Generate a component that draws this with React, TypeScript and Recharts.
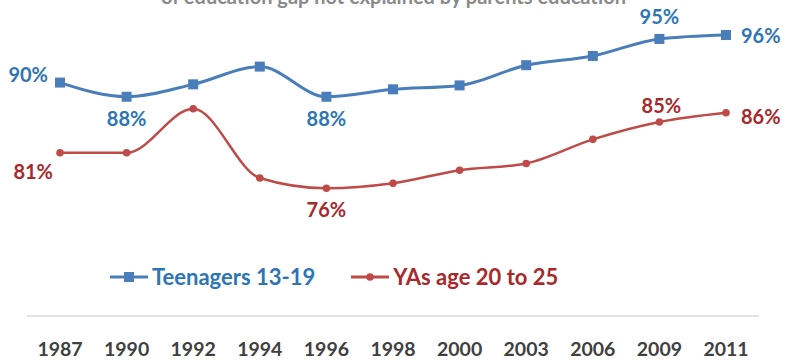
import React from 'react'
import { LineChart, Line, XAxis, YAxis, Legend, LabelList } from 'recharts'

const years = ['1987', '1990', '1992', '1994', '1996', '1998', '2000', '2003', '2006', '2009', '2011']
const teenagers = [90.9, 88.9, 90.65, 93.15, 88.9, 89.95, 90.5, 93.35, 94.65, 97.05, 97.6]
const youngAdults = [81.0, 81.0, 87.2, 77.45, 76.0, 76.7, 78.55, 79.5, 82.9, 85.35, 86.65]
const teenLabels = ['90%', '88%', '', '', '88%', '', '', '', '', '95%', '96%']
const yaLabels = ['81%', '', '', '', '76%', '', '', '', '', '85%', '86%']

const data = years.map((year, i) => ({ year, teen: teenagers[i], ya: youngAdults[i] }))

const FONT = 'Lato, "Open Sans", sans-serif'
const BLUE_LINE = '#4a7ebb'
const BLUE_TEXT = '#2e75b6'
const RED_LINE = '#be4b48'
const RED_TEXT = '#a8292c'

// where each label sits relative to its point
type Place = { dx: number; dy: number; anchor: 'start' | 'middle' | 'end' }
const teenPlace: Record<number, Place> = {
  0: { dx: -12, dy: -9, anchor: 'end' },
  1: { dx: 0, dy: 21, anchor: 'middle' },
  4: { dx: 0, dy: 21, anchor: 'middle' },
  9: { dx: 0, dy: -23, anchor: 'middle' },
  10: { dx: 15, dy: 0, anchor: 'start' },
}
const yaPlace: Record<number, Place> = {
  0: { dx: -7, dy: 18, anchor: 'end' },
  4: { dx: 0, dy: 21, anchor: 'middle' },
  9: { dx: 2, dy: -17, anchor: 'middle' },
  10: { dx: 15, dy: 3, anchor: 'start' },
}

const makeLabel = (labels: string[], place: Record<number, Place>, color: string) => (props: any) => {
  const { x, y, index } = props
  const text = labels[index]
  const p = place[index]
  if (!text || !p) return null
  return (
    <text key={`l-${index}`} x={x + p.dx} y={y + p.dy} textAnchor={p.anchor} dominantBaseline="central"
      fill={color} fontSize={20} fontWeight={700} fontFamily={FONT}>
      {text}
    </text>
  )
}

const SquareDot = (props: any) => {
  const { cx, cy, index } = props
  return <rect key={`sq-${index}`} x={cx - 5} y={cy - 5} width={10} height={10} fill={BLUE_LINE} />
}

const RoundDot = (props: any) => {
  const { cx, cy, index } = props
  return <circle key={`rd-${index}`} cx={cx} cy={cy} r={3.8} fill={RED_LINE} />
}

function renderLegend() {
  const item = (color: string, textColor: string, label: string, square: boolean) => (
    <div style={{ display: 'flex', alignItems: 'center' }}>
      <svg width={40} height={14}>
        <line x1={0} y1={7} x2={38} y2={7} stroke={color} strokeWidth={3} />
        {square
          ? <rect x={14} y={2} width={10} height={10} fill={color} />
          : <circle cx={19} cy={7} r={3.8} fill={color} />}
      </svg>
      <span style={{ color: textColor, fontSize: 22, fontWeight: 700, fontFamily: FONT, marginLeft: 2 }}>{label}</span>
    </div>
  )
  return (
    <div style={{ display: 'flex', alignItems: 'center', paddingLeft: 110, gap: 36 }}>
      {item(BLUE_LINE, BLUE_TEXT, 'Teenagers 13-19', true)}
      {item(RED_LINE, RED_TEXT, 'YAs age 20 to 25', false)}
    </div>
  )
}

export default function App() {
  return (
    <div style={{ position: 'relative', width: 787, height: 360, background: '#ffffff', overflow: 'hidden' }}>
      <style>{'body { margin: 0; }'}</style>
      <div style={{
        position: 'absolute', top: -16, left: 0, width: 787, textAlign: 'center',
        fontSize: 20, fontWeight: 700, fontFamily: FONT, color: '#8a8a8a', lineHeight: '24px',
      }}>
        of education gap not explained by parents education
      </div>
      <LineChart width={787} height={360} data={data} margin={{ top: 18, right: 28, left: 27, bottom: 4 }}>
        <XAxis dataKey="year" height={40} axisLine={{ stroke: '#d9d9d9', strokeWidth: 1.5 }} tickLine={false}
          tickSize={6} tickMargin={20} interval={0} padding={{ left: 33, right: 33 }}
          tick={{ fill: '#404040', fontSize: 19.5, fontWeight: 700, fontFamily: FONT }} />
        <YAxis hide domain={[58, 100]} allowDataOverflow />
        <Legend verticalAlign="middle" content={renderLegend} wrapperStyle={{ top: 263, left: 0, width: 787 }} />
        <Line type="monotone" dataKey="teen" name="Teenagers 13-19" stroke={BLUE_LINE} strokeWidth={3}
          dot={SquareDot} activeDot={false} isAnimationActive={false}>
          <LabelList dataKey="teen" content={makeLabel(teenLabels, teenPlace, BLUE_TEXT)} />
        </Line>
        <Line type="monotone" dataKey="ya" name="YAs age 20 to 25" stroke={RED_LINE} strokeWidth={2.5}
          dot={RoundDot} activeDot={false} isAnimationActive={false}>
          <LabelList dataKey="ya" content={makeLabel(yaLabels, yaPlace, RED_TEXT)} />
        </Line>
      </LineChart>
    </div>
  )
}
